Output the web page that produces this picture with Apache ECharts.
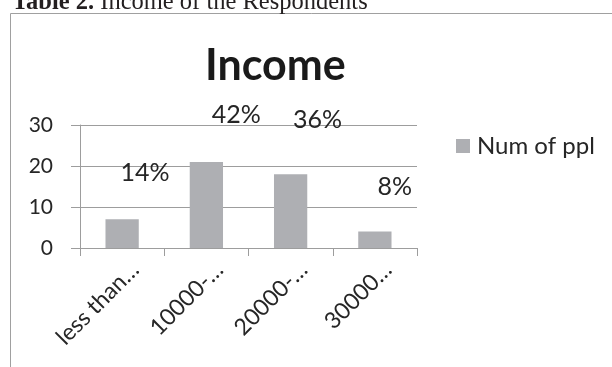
<!DOCTYPE html>
<html>
<head>
<meta charset="utf-8">
<script src="https://cdn.jsdelivr.net/npm/echarts@6/dist/echarts.min.js"></script>
<style>
html,body{margin:0;padding:0;background:#fff;}
#chart{width:612px;height:367px;}
</style>
</head>
<body>
<div id="chart"></div>
<script>
var categories = ['less than…', '10000-…', '20000-…', '30000…'];
var numOfPpl = [7, 21, 18, 4];
var pctLabels = ['14%', '42%', '36%', '8%'];
var yTicks = [0, 10, 20, 30];
var seriesName = 'Num of ppl';
var chartTitle = 'Income';
var headerBold = 'Table 2.';
var headerRest = ' Income of the Respondents';

var labelOffsets = [[23, -34], [30, -34], [27, -42], [20, -32]];
var txt = '#262626';
var lineCol = '#9d9d9d';
var barCol = '#aeafb3';

var chart = echarts.init(document.getElementById('chart'), null, {renderer: 'canvas'});
var option = {
  animation: false,
  backgroundColor: '#fff',
  title: {
    text: chartTitle, left: 205, top: 45, padding: 0,
    textStyle: {fontFamily: 'Lato', fontWeight: 'bold', fontSize: 43, color: '#1a1a1a'}
  },
  legend: {
    data: [seriesName], left: 456, top: 134, padding: 0,
    icon: 'rect', itemWidth: 14, itemHeight: 14, itemGap: 5,
    textStyle: {fontFamily: 'Lato', fontSize: 24, color: txt, padding: [0,0,0,2]}
  },
  graphic: [
    {type: 'rect', silent: true, z: -1,
     shape: {x: 10.5, y: 13.5, width: 700, height: 400},
     style: {fill: 'none', stroke: '#a0a0a0', lineWidth: 1}},
    {type: 'text', x: 12, y: 3,
     style: {
       text: '{b|' + headerBold + '}{r|' + headerRest + '}',
       verticalAlign: 'middle',
       rich: {
         b: {fontFamily: 'Liberation Serif', fontWeight: 'bold', fontSize: 24.5, fill: '#231f20'},
         r: {fontFamily: 'Liberation Serif', fontSize: 24.5, fill: '#231f20'}
       }
     }}
  ],
  grid: [
    {left: 80, top: 125, width: 337, height: 123},
    {left: 93, top: 125, width: 337, height: 123}
  ],
  xAxis: [
    {type: 'category', gridIndex: 0, data: categories, boundaryGap: true,
     axisLine: {show: true, lineStyle: {color: lineCol, width: 1}},
     axisTick: {show: true, length: 8, alignWithLabel: false, lineStyle: {color: lineCol}},
     axisLabel: {show: false}},
    {type: 'category', gridIndex: 1, data: categories, boundaryGap: true,
     axisLine: {show: false}, axisTick: {show: false},
     axisLabel: {show: true, rotate: 45, margin: 18, interval: 0,
       fontFamily: 'Lato', fontSize: 23, color: txt}}
  ],
  yAxis: [
    {type: 'value', gridIndex: 0, min: yTicks[0], max: yTicks[yTicks.length - 1], interval: 10,
     axisLine: {show: true, lineStyle: {color: lineCol, width: 1}},
     axisTick: {show: true, inside: false, length: 9, lineStyle: {color: lineCol}},
     splitLine: {show: true, lineStyle: {color: lineCol, width: 1}},
     axisLabel: {margin: 27, fontFamily: 'Lato', fontSize: 21, color: txt}},
    {type: 'value', gridIndex: 1, min: 0, max: 30, show: false}
  ],
  series: [{
    name: seriesName, type: 'bar', xAxisIndex: 0, yAxisIndex: 0,
    barWidth: '39.5%',
    itemStyle: {color: barCol},
    data: numOfPpl.map(function (v, i) {
      return {
        value: v,
        label: {show: true, position: 'top', distance: 0, offset: labelOffsets[i],
          formatter: pctLabels[i], fontFamily: 'Lato', fontSize: 25, color: txt}
      };
    })
  }]
};
chart.setOption(option);
</script>
</body>
</html>
